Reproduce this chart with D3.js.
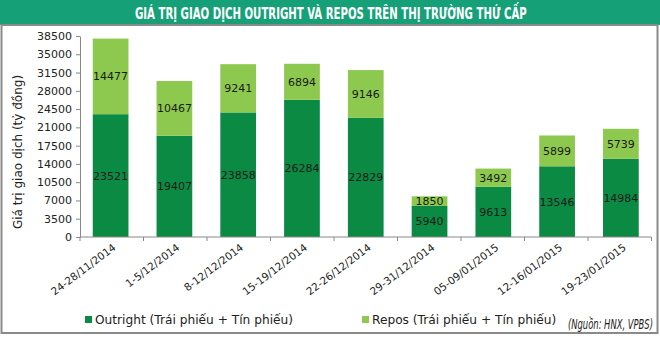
<!DOCTYPE html>
<html><head><meta charset="utf-8">
<script src="https://cdn.jsdelivr.net/npm/d3@7"></script>
<style>
html,body{margin:0;padding:0;background:#fff;}
svg{display:block;}
</style></head>
<body>
<script>
const categories = ["24-28/11/2014","1-5/12/2014","8-12/12/2014","15-19/12/2014","22-26/12/2014","29-31/12/2014","05-09/01/2015","12-16/01/2015","19-23/01/2015"];
const outright = [23521,19407,23858,26284,22829,5940,9613,13546,14984];
const repos = [14477,10467,9241,6894,9146,1850,3492,5899,5739];
const yTicks = [0,3500,7000,10500,14000,17500,21000,24500,28000,31500,35000,38500];
const seriesNames = ["Outright (Trái phiếu + Tín phiếu)","Repos (Trái phiếu + Tín phiếu)"];
const title = "GIÁ TRỊ GIAO DỊCH OUTRIGHT VÀ REPOS TRÊN THỊ TRƯỜNG THỨ CẤP";
const yLabel = "Giá trị giao dịch (tỷ đồng)";
const source = "(Nguồn: HNX, VPBS)";

const W=660,H=338;
const colors=["#0b8a43","#8dc94e"];
const svg=d3.select("body").append("svg").attr("width",W).attr("height",H);
const cond="'DejaVu Sans Condensed','Liberation Sans Narrow',sans-serif";

function fitText(sel, x0, y0, width){
  const w=sel.node().getComputedTextLength();
  sel.attr("transform",`translate(${x0},${y0}) scale(${width/w},1)`);
}

svg.append("rect").attr("x",0).attr("y",0).attr("width",W).attr("height",25).attr("fill","#16a078");
const t=svg.append("text").attr("x",0).attr("y",0)
  .attr("fill","#fff").style("font-family",cond)
  .style("font-weight","bold").style("font-size","16px").text(title);
fitText(t,135,19,392);
svg.append("rect").attr("x",1.5).attr("y",25).attr("width",656).attr("height",308)
  .attr("fill","none").attr("stroke","#8a8a8a").attr("stroke-width",2);

const x=d3.scaleBand().domain(categories).range([80,651.5]).paddingInner(0.44).paddingOuter(0.2);
const y=d3.scaleLinear().domain([0,38500]).range([237,36]);

const stack=d3.stack().keys([0,1]).value((d,k)=>d[k]);
const rows=categories.map((c,i)=>({c,0:outright[i],1:repos[i]}));
const layers=stack(rows);
const font="'DejaVu Sans',Verdana,sans-serif";

layers.forEach((layer,k)=>{
  const g=svg.append("g");
  g.selectAll("rect").data(layer).enter().append("rect")
    .attr("x",d=>x(d.data.c)).attr("width",x.bandwidth())
    .attr("y",d=>y(d[1])).attr("height",d=>y(d[0])-y(d[1]))
    .attr("fill",colors[k]);
  g.selectAll("text").data(layer).enter().append("text")
    .attr("x",d=>x(d.data.c)+x.bandwidth()/2)
    .attr("y",d=>(y(d[0])+y(d[1]))/2+4)
    .attr("text-anchor","middle").style("font-family",font).style("font-size","11px")
    .attr("fill","#1a1a1a").text(d=>d.data[k]);
});

const yAxis=svg.append("g").attr("transform","translate(80,0)")
  .call(d3.axisLeft(y).tickValues(yTicks).tickSize(4).tickSizeOuter(0).tickFormat(d=>d));
yAxis.selectAll("text").style("font-family",font).style("font-size","11px").attr("fill","#222").attr("x",-8);
yAxis.selectAll("line,path").attr("stroke","#888");

const xAxis=svg.append("g").attr("transform","translate(0,237)");
xAxis.append("line").attr("x1",80).attr("x2",651.5).attr("stroke","#888");
const step=(651.5-80)/categories.length;
xAxis.selectAll("line.t").data(d3.range(categories.length+1)).enter().append("line")
  .attr("class","t").attr("x1",i=>80+i*step).attr("x2",i=>80+i*step).attr("y1",0).attr("y2",4).attr("stroke","#888");
xAxis.selectAll("text").data(categories).enter().append("text")
  .attr("transform",d=>`translate(${x(d)+x.bandwidth()/2+6},${12}) rotate(-37)`)
  .attr("text-anchor","end").style("font-family",font).style("font-size","10.5px").attr("fill","#222").text(d=>d);

svg.append("text").attr("transform","translate(22,152) rotate(-90)").attr("text-anchor","middle")
  .style("font-family",font).style("font-size","12px").attr("fill","#222").text(yLabel);

const leg=[[85,seriesNames[0]],[362,seriesNames[1]]];
leg.forEach(([lx,tx],k)=>{
  svg.append("rect").attr("x",lx).attr("y",316).attr("width",7).attr("height",7).attr("fill",colors[k]);
  svg.append("text").attr("x",lx+10).attr("y",324).style("font-family",font).style("font-size","12.2px").attr("fill","#222").text(tx);
});
const s=svg.append("text").attr("x",0).attr("y",0)
  .style("font-family",cond).style("font-style","italic").style("font-size","13.5px")
  .attr("fill","#222").text(source);
fitText(s,568,329,85);
</script>
</body></html>
